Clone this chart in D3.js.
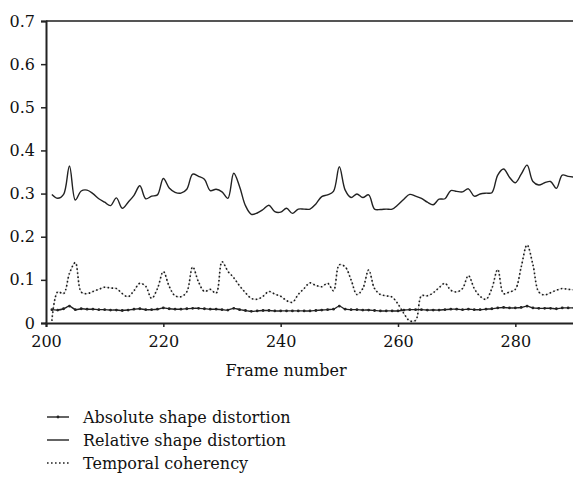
<!DOCTYPE html>
<html>
<head>
<meta charset="utf-8">
<script src="https://cdn.jsdelivr.net/npm/d3@7"></script>
<style>
  body { margin: 0; background: #fff; }
  svg text { font-family: "DejaVu Serif", "Liberation Serif", serif; fill: #111; }
</style>
</head>
<body>
<script>
// frames 201..290
var frames = d3.range(201, 291);

var absoluteDistortion = [
  0.031, 0.030, 0.033, 0.039, 0.031, 0.033, 0.032, 0.032, 0.031, 0.031,
  0.030, 0.030, 0.029, 0.030, 0.032, 0.033, 0.031, 0.031, 0.032, 0.035,
  0.033, 0.032, 0.032, 0.033, 0.034, 0.034, 0.033, 0.032, 0.032, 0.031,
  0.030, 0.034, 0.031, 0.029, 0.027, 0.028, 0.029, 0.029, 0.028, 0.028,
  0.028, 0.028, 0.028, 0.028, 0.028, 0.029, 0.030, 0.031, 0.032, 0.039,
  0.032, 0.031, 0.031, 0.030, 0.030, 0.029, 0.028, 0.028, 0.028, 0.028,
  0.030, 0.031, 0.031, 0.031, 0.030, 0.030, 0.030, 0.031, 0.032, 0.032,
  0.031, 0.032, 0.031, 0.031, 0.032, 0.033, 0.035, 0.036, 0.035, 0.035,
  0.036, 0.039, 0.035, 0.034, 0.034, 0.034, 0.033, 0.035, 0.035, 0.035
];

var relativeDistortion = [
  0.298, 0.289, 0.298, 0.364, 0.285, 0.306, 0.308, 0.300, 0.288, 0.280,
  0.272, 0.290, 0.266, 0.280, 0.296, 0.318, 0.288, 0.294, 0.297, 0.335,
  0.313, 0.303, 0.301, 0.310, 0.345, 0.340, 0.333, 0.307, 0.310, 0.304,
  0.289, 0.347, 0.316, 0.272, 0.252, 0.255, 0.263, 0.273, 0.258, 0.257,
  0.266, 0.254, 0.264, 0.264, 0.264, 0.276, 0.293, 0.297, 0.305, 0.362,
  0.308, 0.291, 0.299, 0.291, 0.297, 0.264, 0.263, 0.264, 0.264, 0.274,
  0.287, 0.298, 0.294, 0.289, 0.280, 0.274, 0.287, 0.288, 0.307, 0.305,
  0.304, 0.311, 0.294, 0.299, 0.301, 0.302, 0.343, 0.357, 0.338, 0.325,
  0.345, 0.366, 0.328, 0.320, 0.325, 0.328, 0.312, 0.343, 0.340, 0.338
];

var temporalCoherency = [
  0.005, 0.072, 0.068, 0.115, 0.140, 0.072, 0.068, 0.073, 0.078, 0.083,
  0.081, 0.080, 0.068, 0.061, 0.075, 0.092, 0.085, 0.057, 0.080, 0.119,
  0.085, 0.063, 0.061, 0.072, 0.130, 0.095, 0.073, 0.078, 0.069, 0.142,
  0.120, 0.105, 0.086, 0.070, 0.057, 0.055, 0.062, 0.073, 0.067, 0.062,
  0.052, 0.048, 0.066, 0.080, 0.093, 0.087, 0.084, 0.092, 0.075, 0.135,
  0.130, 0.100, 0.066, 0.080, 0.123, 0.080, 0.066, 0.063, 0.060, 0.044,
  0.022, 0.005, 0.006, 0.063, 0.063, 0.070, 0.082, 0.092, 0.076, 0.072,
  0.080, 0.110, 0.080, 0.062, 0.055, 0.080, 0.124, 0.068, 0.072, 0.078,
  0.130, 0.181, 0.135, 0.072, 0.065, 0.070, 0.076, 0.080, 0.078, 0.077
];

var xTicks = [200, 220, 240, 260, 280];
var yTicks = [0, 0.1, 0.2, 0.3, 0.4, 0.5, 0.6, 0.7];
var legendLabels = ["Absolute shape distortion", "Relative shape distortion", "Temporal coherency"];

(function () {
  var width = 573, height = 479;
  var mLeft = 46, mRight = 574, mTop = 21, mBottom = 323;
  var fontSize = "16px";

  var svg = d3.select("body").append("svg")
    .attr("width", width)
    .attr("height", height);

  var x = d3.scaleLinear().domain([200, 290]).range([mLeft, mRight]);
  var y = d3.scaleLinear().domain([0, 0.7]).range([mBottom, mTop]);

  // top frame line
  svg.append("line")
    .attr("x1", mLeft).attr("x2", width)
    .attr("y1", mTop).attr("y2", mTop)
    .attr("stroke", "#555").attr("stroke-width", 2);

  // y axis
  var yAxis = svg.append("g")
    .attr("transform", "translate(" + mLeft + ",0)")
    .call(d3.axisLeft(y).tickValues(yTicks).tickSize(5).tickPadding(6)
      .tickFormat(function (d) { return d === 0 ? "0" : d3.format(".1f")(d); }));
  yAxis.select(".domain").attr("stroke", "#222").attr("stroke-width", 2);
  yAxis.selectAll(".tick line").attr("stroke", "#222").attr("stroke-width", 1.5);
  yAxis.selectAll("text").style("font-size", fontSize);

  // x axis
  var xAxis = svg.append("g")
    .attr("transform", "translate(0," + mBottom + ")")
    .call(d3.axisBottom(x).tickValues(xTicks).tickSize(4).tickPadding(9));
  xAxis.select(".domain").attr("stroke", "#222").attr("stroke-width", 2);
  xAxis.selectAll(".tick line").attr("stroke", "#222").attr("stroke-width", 1.5);
  xAxis.selectAll("text").style("font-size", fontSize);

  svg.append("text")
    .attr("x", 286)
    .attr("y", 376)
    .attr("text-anchor", "middle")
    .style("font-size", fontSize)
    .text("Frame number");

  var line = function (vals) {
    return d3.line()
      .x(function (d, i) { return x(frames[i]); })
      .y(function (d) { return y(d); })
      .curve(d3.curveCatmullRom.alpha(0.5))(vals);
  };

  var plot = svg.append("g");

  // dotted series: faint grey trace with dark dots on it
  plot.append("path")
    .attr("d", line(temporalCoherency))
    .attr("fill", "none")
    .attr("stroke", "#c8c8c8")
    .attr("stroke-width", 0.8);
  plot.append("path")
    .attr("d", line(temporalCoherency))
    .attr("fill", "none")
    .attr("stroke", "#1a1a1a")
    .attr("stroke-width", 1.6)
    .attr("stroke-dasharray", "1.6,2.4");

  plot.append("path")
    .attr("d", line(relativeDistortion))
    .attr("fill", "none")
    .attr("stroke", "#222")
    .attr("stroke-width", 1.4);

  plot.append("path")
    .attr("d", line(absoluteDistortion))
    .attr("fill", "none")
    .attr("stroke", "#222")
    .attr("stroke-width", 1.4);

  plot.selectAll("circle.abs")
    .data(absoluteDistortion)
    .enter().append("circle")
    .attr("class", "abs")
    .attr("cx", function (d, i) { return x(frames[i]); })
    .attr("cy", function (d) { return y(d); })
    .attr("r", 1.4)
    .attr("fill", "#222");

  // legend
  legendLabels.forEach(function (lab, i) {
    var ly = 417 + i * 23;
    var g = svg.append("g");
    var ln = g.append("line")
      .attr("x1", 47).attr("x2", 69)
      .attr("y1", ly).attr("y2", ly)
      .attr("stroke", "#222").attr("stroke-width", 1.4);
    if (i === 2) ln.attr("stroke-width", 1.6).attr("stroke-dasharray", "1.6,2.4");
    if (i === 0) {
      g.append("circle").attr("cx", 58).attr("cy", ly).attr("r", 1.4).attr("fill", "#222");
    }
    g.append("text")
      .attr("x", 83).attr("y", ly + 6)
      .style("font-size", fontSize)
      .text(lab);
  });
})();
</script>
</body>
</html>
